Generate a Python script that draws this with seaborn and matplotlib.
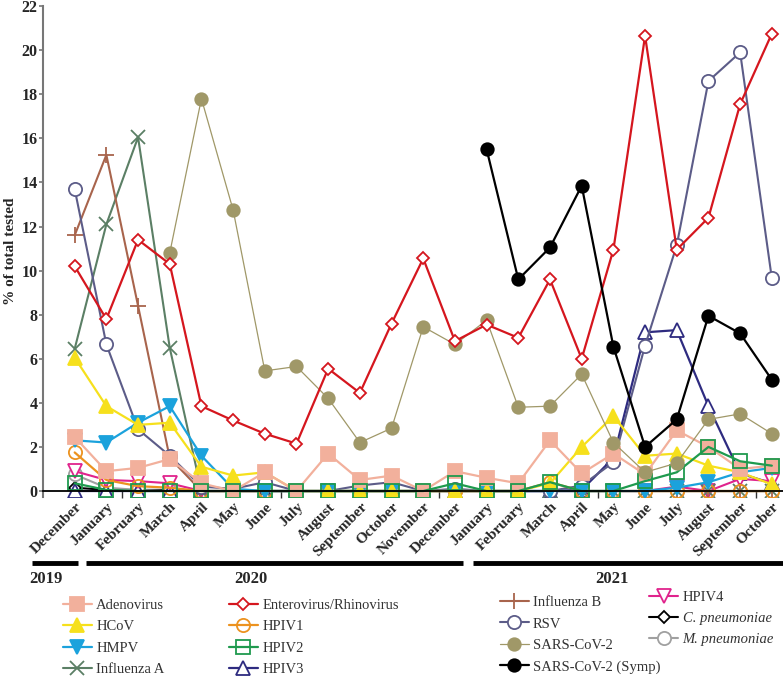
import numpy as np
import pandas as pd
import seaborn as sns
import matplotlib.pyplot as plt
from matplotlib import transforms
from matplotlib.lines import Line2D

nan = np.nan

months = ["December", "January", "February", "March", "April", "May", "June",
          "July", "August", "September", "October", "November", "December",
          "January", "February", "March", "April", "May", "June", "July",
          "August", "September", "October"]

# % of total tested, Dec 2019 -> Oct 2021
adenovirus = [2.45, 0.9, 1.05, 1.45, 0.35, 0, 0.85, 0, 1.7, 0.5, 0.7, 0, 0.9,
              0.6, 0.35, 2.3, 0.8, 1.7, 0.75, 2.75, 2.0, 1.0, 1.15]
hcov = [6.05, 3.85, 3.0, 3.1, 1.1, 0.7, 0.85, 0, 0, 0, 0, 0, 0,
        0, 0, 0.35, 2.0, 3.4, 1.6, 1.7, 1.15, 0.85, 0.3]
hmpv = [2.3, 2.2, 3.1, 3.85, 1.6, 0.1, 0, 0, 0, 0, 0, 0, 0,
        0, 0, 0, 0, 0, 0, 0.15, 0.4, 0.85, 1.05]
influenza_a = [6.45, 12.1, 16.05, 6.5, 0, 0, 0, 0, 0, 0, 0, 0, 0,
               0, 0, 0, 0, 0, 0, 0, 0, 0, 0]
enterovirus = [10.2, 7.8, 11.4, 10.3, 3.85, 3.2, 2.6, 2.15, 5.55, 4.45, 7.6, 10.55, 6.8,
               7.55, 6.95, 9.6, 6.0, 10.95, 20.65, 10.95, 12.4, 17.55, 20.75]
hpiv1 = [1.75, 0.5, 0.22, 0.15, 0, 0, 0, 0, 0, 0, 0, 0, 0,
         0, 0, 0.4, 0, 0, 0, 0, 0, 0, 0]
hpiv2 = [0.35, 0.05, 0, 0, 0, 0, 0, 0, 0, 0, 0, 0, 0.35,
         0, 0, 0.4, 0, 0, 0.45, 0.85, 2.0, 1.35, 1.15]
hpiv3 = [0, 0, 0, 0, 0, 0, 0, 0, 0, 0, 0, 0, 0,
         0, 0, 0, 0.05, 1.5, 7.2, 7.3, 3.85, 0.8, 0.35]
influenza_b = [11.6, 15.25, 8.4, 1.5, 0, 0, 0, 0, 0, 0, 0, 0, 0,
               0, 0, 0, 0, 0, 0, 0, 0, 0, 0]
rsv = [13.7, 6.65, 2.8, 1.6, 0.2, 0.1, 0.4, 0, 0, 0.25, 0.4, 0, 0.1,
       0, 0, 0, 0.25, 1.3, 6.6, 11.15, 18.6, 19.9, 9.65]
sars = [nan, nan, nan, 10.8, 17.8, 12.75, 5.45, 5.65, 4.2, 2.2, 2.85, 7.45, 6.65,
        7.75, 3.8, 3.85, 5.3, 2.2, 0.85, 1.27, 3.25, 3.5, 2.6]
sars_symp = [nan, nan, nan, nan, nan, nan, nan, nan, nan, nan, nan, nan, nan,
             15.5, 9.6, 11.05, 13.85, 6.55, 2.0, 3.25, 7.95, 7.15, 5.05]
hpiv4 = [0.9, 0.5, 0.45, 0.35, 0, 0, 0, 0, 0, 0, 0, 0, 0,
         0, 0, 0, 0, 0, 0, 0.2, 0, 0.55, 0.45]
c_pneu = [0.15, 0.05, 0.05, 0.05, 0, 0, 0, 0, 0, 0, 0, 0, 0,
          0, 0, 0, 0, 0, 0, 0, 0, 0, 0]
m_pneu = [0.75, 0.15, 0.05, 0, 0, 0, 0, 0, 0, 0, 0, 0, 0,
          0, 0, 0, 0, 0, 0, 0, 0, 0, 0]

series = {
    "Adenovirus": adenovirus, "HCoV": hcov, "HMPV": hmpv, "Influenza A": influenza_a,
    "Enterovirus/Rhinovirus": enterovirus, "HPIV1": hpiv1, "HPIV2": hpiv2, "HPIV3": hpiv3,
    "Influenza B": influenza_b, "RSV": rsv, "SARS-CoV-2": sars,
    "SARS-CoV-2 (Symp)": sars_symp, "HPIV4": hpiv4, "C. pneumoniae": c_pneu,
    "M. pneumoniae": m_pneu,
}

rows = []
for name, vals in series.items():
    for i, v in enumerate(vals):
        rows.append({"month": i, "virus": name, "pct": v})
df = pd.DataFrame(rows)

styles = {
    "Adenovirus": dict(color="#f2b09c", marker="s", markersize=9.5, markerfacecolor="#f2b09c", markeredgecolor="#f2b09c", lw=1.6),
    "HCoV": dict(color="#f6e01c", marker="^", markersize=9.5, markerfacecolor="#f6e01c", markeredgecolor="#f6e01c", lw=1.6),
    "HMPV": dict(color="#1ba2dc", marker="v", markersize=9.5, markerfacecolor="#1ba2dc", markeredgecolor="#1ba2dc", lw=1.6),
    "Influenza A": dict(color="#5b7f65", marker="x", markersize=10, markerfacecolor="none", markeredgecolor="#5b7f65", lw=1.5),
    "Enterovirus/Rhinovirus": dict(color="#d5161e", marker="D", markersize=6.3, markerfacecolor="white", markeredgecolor="#d5161e", lw=1.6),
    "HPIV1": dict(color="#ec921f", marker="o", markersize=9.5, markerfacecolor="none", markeredgecolor="#ec921f", lw=1.6),
    "HPIV2": dict(color="#1f9a4e", marker="s", markersize=9.5, markerfacecolor="none", markeredgecolor="#1f9a4e", lw=1.6),
    "HPIV3": dict(color="#2e2b80", marker="^", markersize=10, markerfacecolor="white", markeredgecolor="#2e2b80", lw=1.6),
    "Influenza B": dict(color="#a8644c", marker="+", markersize=11, markerfacecolor="none", markeredgecolor="#a8644c", lw=1.5),
    "RSV": dict(color="#5c5c88", marker="o", markersize=9.5, markerfacecolor="white", markeredgecolor="#5c5c88", lw=1.5),
    "SARS-CoV-2": dict(color="#a09868", marker="o", markersize=9, markerfacecolor="#a09868", markeredgecolor="#a09868", lw=0.9),
    "SARS-CoV-2 (Symp)": dict(color="black", marker="o", markersize=9, markerfacecolor="black", markeredgecolor="black", lw=1.6),
    "HPIV4": dict(color="#e0238c", marker="v", markersize=9.5, markerfacecolor="white", markeredgecolor="#e0238c", lw=1.5),
    "C. pneumoniae": dict(color="black", marker="D", markersize=6.3, markerfacecolor="white", markeredgecolor="black", lw=1.5),
    "M. pneumoniae": dict(color="#a0a0a0", marker="o", markersize=9.5, markerfacecolor="white", markeredgecolor="#a0a0a0", lw=1.5),
}

draw_order = ["C. pneumoniae", "M. pneumoniae", "HPIV3", "HPIV4", "Influenza A",
              "Influenza B", "RSV", "HPIV1", "HMPV", "HCoV", "Adenovirus", "HPIV2",
              "SARS-CoV-2", "Enterovirus/Rhinovirus", "SARS-CoV-2 (Symp)"]

sns.set_style("ticks")
plt.rcParams["font.family"] = ["Liberation Serif", "DejaVu Serif"]

fig = plt.figure(figsize=(7.83, 6.78), dpi=100)
ax = fig.add_axes([0.0549, 0.267, 0.945, 0.724])

for name in draw_order:
    sub = df[df["virus"] == name].dropna()
    sns.lineplot(data=sub, x="month", y="pct", ax=ax, label=name,
                 markeredgewidth=1.3, **styles[name])

handles, labels = ax.get_legend_handles_labels()
hmap = dict(zip(labels, handles))
if ax.get_legend() is not None:
    ax.get_legend().remove()

ax.set_xlim(-1.0, 22.35)
ax.set_ylim(-0.27, 22)
ax.set_yticks(range(0, 23, 2))
ax.set_yticklabels([str(v) for v in range(0, 23, 2)], fontweight="bold", fontsize=11.5)
ax.spines["top"].set_visible(False)
ax.spines["right"].set_visible(False)
ax.spines["left"].set_color("#777777")
ax.spines["left"].set_linewidth(1.5)
ax.spines["bottom"].set_position(("data", 0))
ax.spines["bottom"].set_color("black")
ax.spines["bottom"].set_linewidth(1.3)
ax.tick_params(axis="y", length=3, width=1.2, color="#777777", pad=1)

ax.set_xticks([1.5, 6.5, 11.5, 16.5, 21.5])
ax.set_xticklabels([])
ax.tick_params(axis="x", which="major", length=5, width=1, color="#333333", direction="out")
ax.set_xticks(range(len(months)), minor=True)
ax.set_xticklabels(months, minor=True, rotation=45, ha="right", va="center",
                   rotation_mode="anchor", fontweight="bold", fontsize=11)
ax.tick_params(axis="x", which="minor", length=0, pad=10)
shift = transforms.ScaledTranslation(5 / 100, 0, fig.dpi_scale_trans)
for lab in ax.get_xticklabels(minor=True):
    lab.set_transform(lab.get_transform() + shift)

ax.set_xlabel("")
ax.set_ylabel("% of total tested", fontweight="bold", fontsize=11, va="center")
ax.yaxis.set_label_coords(-0.044, 0.5)

# year bars under the month labels
trans = transforms.blended_transform_factory(ax.transData, fig.transFigure)
year_spans = [("2019", -1.36, 0.1, -0.9), ("2020", 0.35, 12.25, 5.55), ("2021", 12.56, 22.6, 16.95)]
for label, x0, x1, xt in year_spans:
    fig.add_artist(Line2D([x0, x1], [0.1696, 0.1696], transform=trans, color="black",
                          lw=3.5, solid_capstyle="butt", clip_on=False))
    fig.text(xt, 0.146, label, transform=trans, ha="center", va="center",
             fontweight="bold", fontsize=12)

# legend in four columns
columns = [
    (["Adenovirus", "HCoV", "HMPV", "Influenza A"], 0.080, 0.117),
    (["Enterovirus/Rhinovirus", "HPIV1", "HPIV2", "HPIV3"], 0.292, 0.117),
    (["Influenza B", "RSV", "SARS-CoV-2", "SARS-CoV-2 (Symp)"], 0.638, 0.121),
    (["HPIV4", "C. pneumoniae", "M. pneumoniae"], 0.829, 0.129),
]
for names, lx, ly in columns:
    leg = fig.legend([hmap[n] for n in names], names, loc="upper left",
                     bbox_to_anchor=(lx, ly), frameon=False, fontsize=10.5,
                     handlelength=2.0, handletextpad=0.3, labelspacing=0.56,
                     borderpad=0, borderaxespad=0)
    for t in leg.get_texts():
        t.set_color("#333333")
        if "pneumoniae" in t.get_text():
            t.set_fontstyle("italic")

fig.savefig("out.png", dpi=100)
